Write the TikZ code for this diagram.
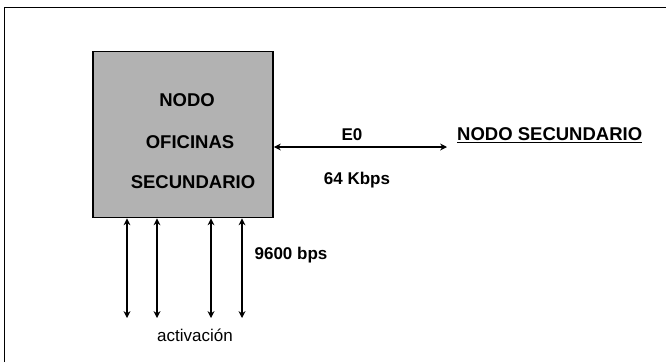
\documentclass[tikz,border=0pt]{standalone}
\usepackage{fontspec}
\setmainfont{Liberation Sans}
\usetikzlibrary{arrows.meta,positioning}

\begin{document}
\begin{tikzpicture}[x=1pt,y=-1pt]
\tikzset{
  nodebox/.style={rectangle,draw=black,line width=1.8pt,fill=black!30,minimum width=180pt,minimum height=166pt,inner sep=0pt},
  boxtext/.style={font=\fontsize{18.5}{20}\selectfont\bfseries,inner sep=1pt},
  plaintext/.style={font=\fontsize{17}{19}\selectfont\bfseries,inner sep=1pt},
  link/.style={draw=black,line width=1.4pt,{Stealth[length=2.4mm,width=2.4mm]}-{Stealth[length=2.4mm,width=2.4mm]}},
  frameline/.style={draw=black,line width=1pt}
}
\useasboundingbox (0,0) rectangle (666,362);
% marco
\draw[frameline] (4,362) -- (4,7) -- (666,7);
% nodo principal
\node[nodebox] (n_box) at (183,134.5) {};
\node[boxtext] (t_nodo) at (187,100) {NODO};
\node[boxtext] (t_ofi) at (190,142) {OFICINAS};
\node[boxtext] (t_sec) at (193,182) {SECUNDARIO};
% enlace E0
\node[boxtext,anchor=west] (n_sec) at (456,135) {\underline{NODO SECUNDARIO}};
\coordinate (c_e) at (447,147);
\draw[link] (n_box.east |- c_e) -- (c_e);
\node[plaintext] (l_e0) at (352,135) {E0};
\node[plaintext] (l_64) at (357,180) {64 Kbps};
% lineas de activacion
\foreach \i/\x in {1/127,2/157,3/211,4/242}{
  \coordinate (a_\i) at (\x,318);
  \draw[link] (n_box.south -| a_\i) -- (a_\i);
}
\node[plaintext] (l_9600) at (291,255) {9600 bps};
\node[plaintext,font=\fontsize{17}{19}\selectfont] (l_act) at (195,335) {activación};
\end{tikzpicture}
\end{document}
